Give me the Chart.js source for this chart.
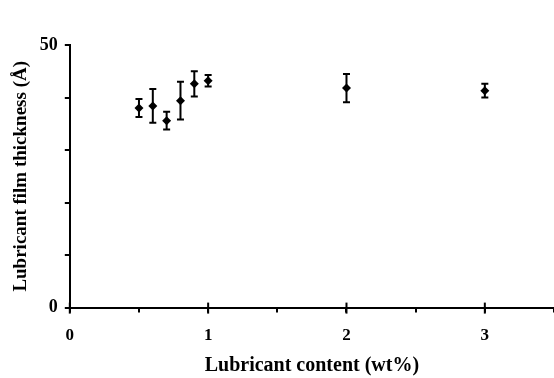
<!DOCTYPE html>
<html>
<head>
<meta charset="utf-8">
<script src="https://cdn.jsdelivr.net/npm/chart.js@4"></script>
<style>
html,body{margin:0;padding:0;background:#fff;}
#wrap{width:554px;height:378px;position:relative;}
canvas{display:block;}
</style>
</head>
<body>
<div id="wrap"><canvas id="c" width="554" height="378"></canvas></div>
<script>
// Data
const lubricantContent = [0.5, 0.6, 0.7, 0.8, 0.9, 1.0, 2.0, 3.0];
const filmThickness   = [38.0, 38.4, 35.6, 39.4, 42.6, 43.2, 41.8, 41.3];
const errorMagnitude  = [1.7, 3.2, 1.7, 3.6, 2.4, 1.1, 2.7, 1.3];
const yTickLabels = [0, 50];
const xTickLabels = [0, 1, 2, 3];

const points = lubricantContent.map((x, i) => ({x: x, y: filmThickness[i]}));

const errorBarPlugin = {
  id: 'errorBars',
  afterDatasetsDraw(chart) {
    const ctx = chart.ctx;
    const xs = chart.scales.x, ys = chart.scales.y;
    ctx.save();
    ctx.strokeStyle = '#000';
    ctx.lineWidth = 2;
    lubricantContent.forEach((xv, i) => {
      const px = xs.getPixelForValue(xv);
      const top = ys.getPixelForValue(filmThickness[i] + errorMagnitude[i]);
      const bot = ys.getPixelForValue(filmThickness[i] - errorMagnitude[i]);
      ctx.beginPath();
      ctx.moveTo(px, top); ctx.lineTo(px, bot);
      ctx.moveTo(px - 3.5, top); ctx.lineTo(px + 3.5, top);
      ctx.moveTo(px - 3.5, bot); ctx.lineTo(px + 3.5, bot);
      ctx.stroke();
    });
    ctx.restore();
  }
};

const majorTickPlugin = {
  id: 'majorTicks',
  afterDraw(chart) {
    const ctx = chart.ctx;
    const xs = chart.scales.x;
    const y0 = chart.chartArea.bottom;
    ctx.save();
    ctx.strokeStyle = '#000';
    ctx.lineWidth = 2;
    xTickLabels.forEach(v => {
      const px = xs.getPixelForValue(v);
      ctx.beginPath();
      ctx.moveTo(px, y0 - 5); ctx.lineTo(px, y0 + 6);
      ctx.stroke();
    });
    ctx.restore();
  }
};

const font = {family: '"Liberation Serif", "Times New Roman", serif', weight: 'bold'};

new Chart(document.getElementById('c'), {
  type: 'scatter',
  data: {
    datasets: [{
      data: points,
      pointStyle: 'rectRot',
      pointRadius: 4.5,
      backgroundColor: '#000',
      borderColor: '#000',
      borderWidth: 0,
      clip: false
    }]
  },
  options: {
    responsive: false,
    animation: false,
    devicePixelRatio: 1,
    layout: {autoPadding: false, padding: {top: 45, right: 0, left: 10, bottom: 0}},
    plugins: {legend: {display: false}, tooltip: {enabled: false}},
    scales: {
      x: {
        type: 'linear',
        min: 0, max: 3.5,
        afterFit: s => { s.paddingRight = 0; },
        border: {display: true, color: '#000', width: 2},
        grid: {display: true, drawOnChartArea: false, drawTicks: true, tickLength: 5, color: '#000', lineWidth: 2},
        ticks: {
          stepSize: 0.5,
          autoSkip: false,
          color: '#000',
          padding: 13,
          maxRotation: 0,
          font: Object.assign({size: 17}, font),
          callback: v => xTickLabels.includes(v) ? String(v) : ''
        },
        title: {display: true, text: 'Lubricant content (wt%)', color: '#000', font: Object.assign({size: 20}, font), padding: {top: -5, bottom: 0}}
      },
      y: {
        type: 'linear',
        min: 0, max: 50,
        border: {display: true, color: '#000', width: 2},
        grid: {display: true, drawOnChartArea: false, drawTicks: true, tickLength: 5, color: '#000', lineWidth: 2},
        ticks: {
          stepSize: 10,
          autoSkip: false,
          color: '#000',
          padding: 7,
          font: Object.assign({size: 18}, font),
          callback: v => yTickLabels.includes(v) ? String(v) : ''
        },
        title: {display: true, text: 'Lubricant film thickness (Å)', color: '#000', font: Object.assign({size: 19}, font), padding: {top: 0, bottom: 0}}
      }
    }
  },
  plugins: [errorBarPlugin, majorTickPlugin]
});
</script>
</body>
</html>
